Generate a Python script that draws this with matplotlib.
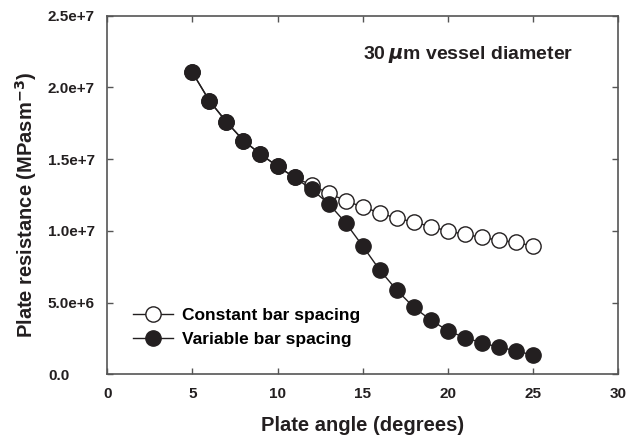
import matplotlib.pyplot as plt
from matplotlib.transforms import ScaledTranslation

# plate angle (degrees)
angles = [5, 6, 7, 8, 9, 10, 11, 12, 13, 14, 15, 16, 17, 18, 19, 20, 21, 22, 23, 24, 25]
# constant bar spacing (open circles)
constant = [21.05e6, 19.07e6, 17.6e6, 16.3e6, 15.35e6, 14.5e6, 13.73e6, 13.19e6, 12.62e6,
            12.1e6, 11.66e6, 11.26e6, 10.87e6, 10.63e6, 10.29e6, 10.0e6, 9.75e6, 9.55e6,
            9.34e6, 9.2e6, 8.94e6]
# variable bar spacing (filled circles)
variable = [21.05e6, 19.07e6, 17.6e6, 16.3e6, 15.35e6, 14.5e6, 13.73e6, 12.89e6, 11.9e6,
            10.56e6, 8.94e6, 7.27e6, 5.87e6, 4.67e6, 3.78e6, 3.04e6, 2.55e6, 2.2e6,
            1.88e6, 1.65e6, 1.32e6]

xticks = [0, 5, 10, 15, 20, 25, 30]
yticks = [0, 5e6, 1e7, 1.5e7, 2e7, 2.5e7]
ytick_labels = ["0.0", "5.0e+6", "1.0e+7", "1.5e+7", "2.0e+7", "2.5e+7"]

plt.rcParams['font.family'] = ['Liberation Sans', 'DejaVu Sans']
plt.rcParams['font.weight'] = 'bold'

dark = '#231f20'
fig = plt.figure(figsize=(6.38, 4.37), dpi=100)
ax = fig.add_axes([0.168, 0.1435, 0.801, 0.8205])

ax.plot(angles, constant, '-o', color=dark, lw=1, markersize=11,
        markerfacecolor='white', markeredgecolor=dark, markeredgewidth=1,
        label='Constant bar spacing')
ax.plot(angles, variable, '-o', color=dark, lw=1, markersize=11,
        markerfacecolor=dark, markeredgecolor=dark,
        label='Variable bar spacing')

ax.set_xlim(0, 30)
ax.set_ylim(0, 2.5e7)
ax.set_xticks(xticks)
ax.set_yticks(yticks)
ax.set_yticklabels(ytick_labels)
ax.tick_params(direction='in', top=True, right=True, length=4, width=1,
               color='#555555', labelsize=11, labelcolor=dark, pad=9)
for s in ax.spines.values():
    s.set_color('#555555')
    s.set_linewidth(1.2)

# the "0.0" label sits further left in the original
lab0 = ax.get_yticklabels()[0]
lab0.set_transform(lab0.get_transform() + ScaledTranslation(-0.25, 0, fig.dpi_scale_trans))

ax.set_xlabel('Plate angle (degrees)', fontsize=14.5, fontweight='bold', color=dark,
              labelpad=11)
ax.set_ylabel('Plate resistance (MPasm$^{\\mathbf{-3}}$)', fontsize=14.5,
              fontweight='bold', color=dark, labelpad=6)
ax.yaxis.label.set_y(0.472)

ax.text(0.707, 0.893, r'30$\,\mu$m vessel diameter', transform=ax.transAxes,
        fontsize=14, fontweight='bold', color=dark, ha='center', va='center')

ax.legend(loc='lower left', bbox_to_anchor=(0.02, 0.033), frameon=False,
          fontsize=12.5, handlelength=2.3, handletextpad=0.5, labelspacing=0.5)

fig.savefig('out.png', dpi=100)
